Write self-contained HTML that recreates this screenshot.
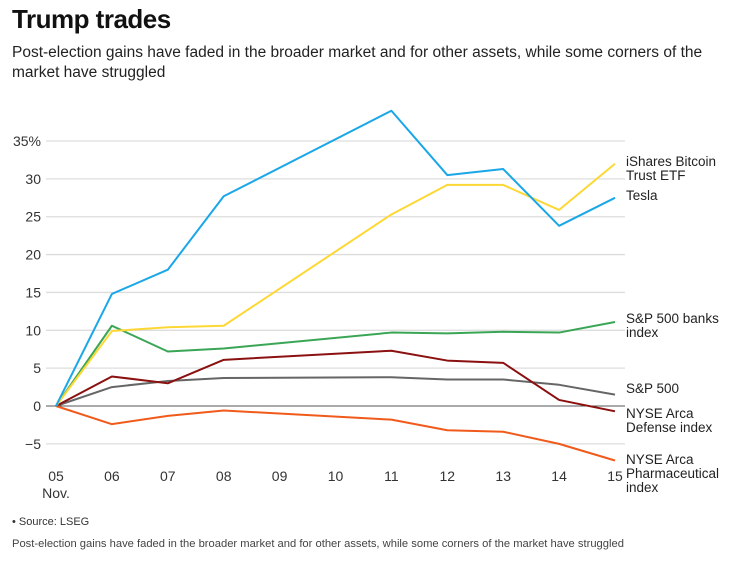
<!DOCTYPE html>
<html><head><meta charset="utf-8"><style>
body{margin:0;background:#fff;font-family:"Liberation Sans",sans-serif;}
#wrap{position:relative;width:735px;height:568px;overflow:hidden}
</style></head><body>
<div id="wrap">
<div style="position:absolute;left:12px;top:4px;font-size:26px;font-weight:bold;color:#111;letter-spacing:-0.5px">Trump trades</div>
<div style="position:absolute;left:12px;top:43px;width:720px;font-size:15.5px;line-height:20px;color:#222">Post-election gains have faded in the broader market and for other assets, while some corners of the market have struggled</div>
<svg id="chart" width="735" height="568" style="position:absolute;left:0;top:0"></svg>
<div style="position:absolute;left:12px;top:516px;font-size:11px;color:#333">• Source: LSEG</div>
<div style="position:absolute;left:12px;top:538px;font-size:11.2px;color:#444">Post-election gains have faded in the broader market and for other assets, while some corners of the market have struggled</div>
</div>
<script>
const categories=["05","06","07","08","09","10","11","12","13","14","15"];
const yTicks=[35,30,25,20,15,10,5,0,-5];
const tesla=[0,14.8,18,27.7,null,null,39,30.5,31.3,23.8,27.5];
const bitcoin=[0,9.9,10.4,10.6,null,null,25.3,29.2,29.2,25.9,32];
const banks=[0,10.6,7.2,7.6,null,null,9.7,9.6,9.8,9.7,11.1];
const defense=[0,3.9,3.0,6.1,null,null,7.3,6.0,5.7,0.8,-0.7];
const sp500=[0,2.5,3.3,3.7,null,null,3.8,3.5,3.5,2.8,1.5];
const pharma=[0,-2.4,-1.3,-0.6,null,null,-1.8,-3.2,-3.4,-5.0,-7.2];
const NS="http://www.w3.org/2000/svg";
const svg=document.getElementById('chart');
const x=i=>56+i*55.9;
const y=v=>406-v*7.571;
function mk(t,a){const e=document.createElementNS(NS,t);for(const k in a)e.setAttribute(k,a[k]);svg.appendChild(e);return e;}
yTicks.forEach(v=>{
 const l=mk('line',{x1:46,x2:625,y1:y(v),y2:y(v),stroke:v===0?'#555':'#ddd','stroke-width':v===0?1:1.3});
 
 
 const t=mk('text',{x:41,y:y(v)+5,'text-anchor':'end','font-size':14,fill:'#333','font-family':'Liberation Sans'});
 t.textContent=(v<0?'\u2212'+(-v):v)+(v===35?'%':'');
 
 
});
categories.forEach((c,i)=>{
 const t=mk('text',{x:x(i),y:481,'text-anchor':'middle','font-size':14,fill:'#333','font-family':'Liberation Sans'});
 t.textContent=c;
 
 
});
const nov=mk('text',{x:56,y:498,'text-anchor':'middle','font-size':14,fill:'#333','font-family':'Liberation Sans'});
nov.textContent='Nov.';


const series=[
 {d:sp500,c:'#666',n:'sp500',lab:['S&P 500'],ly:393},
 {d:pharma,c:'#f05a1a',n:'pharma',lab:['NYSE Arca','Pharmaceutical','index'],ly:464},
 {d:defense,c:'#8b1010',n:'defense',lab:['NYSE Arca','Defense index'],ly:418},
 {d:banks,c:'#3aa655',n:'banks',lab:['S&P 500 banks','index'],ly:323},
 {d:bitcoin,c:'#fdd835',n:'bitcoin',lab:['iShares Bitcoin','Trust ETF'],ly:166},
 {d:tesla,c:'#1aa7e8',n:'tesla',lab:['Tesla'],ly:200}
];
series.forEach(s=>{
 const pts=s.d.map((v,i)=>v===null?null:x(i)+','+y(v)).filter(p=>p);
 const p=mk('polyline',{points:pts.join(' '),fill:'none',stroke:s.c,'stroke-width':2,'stroke-linejoin':'round'});
 
 
 s.lab.forEach((t,k)=>{
  const e=mk('text',{x:626,y:s.ly+k*14,'font-size':13.5,fill:'#222','font-family':'Liberation Sans'});
  e.textContent=t;
  
  
 });
});
</script>
</body></html>
